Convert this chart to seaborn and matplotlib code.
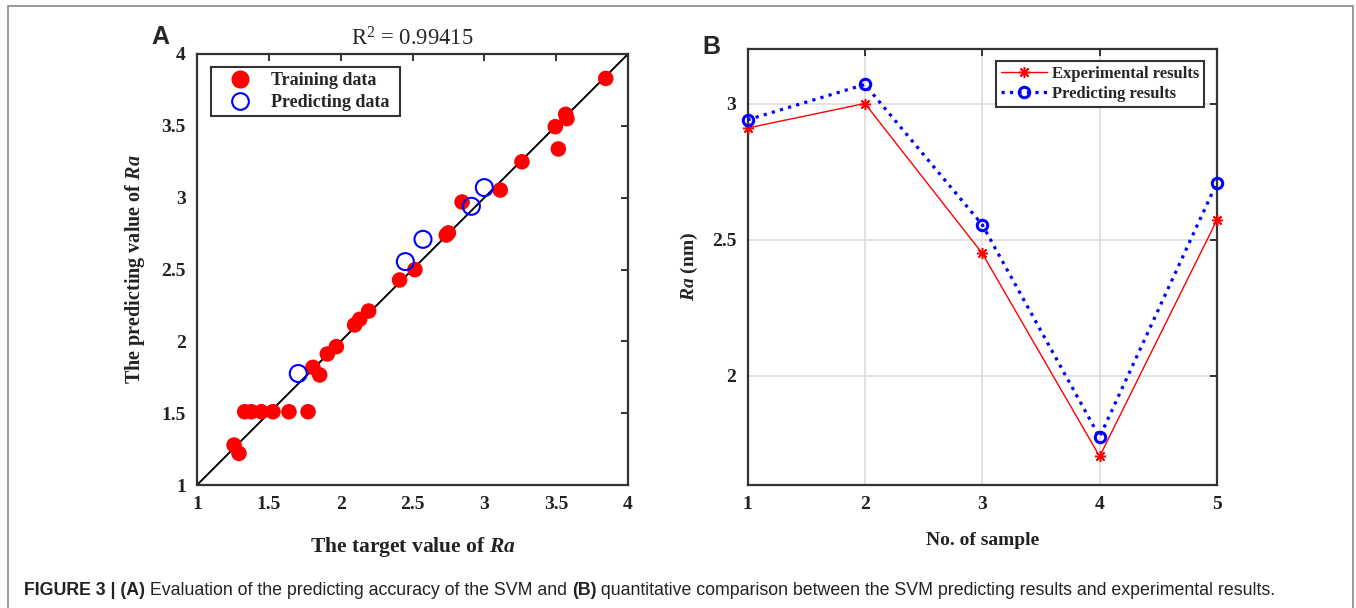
import numpy as np
import pandas as pd
import matplotlib
matplotlib.use("Agg")
import matplotlib.pyplot as plt
import seaborn as sns
from matplotlib.lines import Line2D
from matplotlib.patches import Rectangle

# ---------------- data ----------------
train_target = [3.845, 3.566, 3.575, 3.494, 3.515, 3.262, 3.111, 2.845, 2.735, 2.75,
                2.517, 2.41, 2.195, 2.132, 2.097, 1.97, 1.907, 1.807, 1.854,
                1.332, 1.378, 1.448, 1.529, 1.64, 1.773, 1.258, 1.292]
train_pred = [3.83, 3.58, 3.55, 3.494, 3.339, 3.25, 3.053, 2.97, 2.74, 2.755,
              2.499, 2.427, 2.211, 2.153, 2.114, 1.963, 1.912, 1.819, 1.766,
              1.51, 1.51, 1.51, 1.51, 1.51, 1.51, 1.278, 1.22]
samples = [1, 2, 3, 4, 5]
experimental = [2.91, 3.00, 2.45, 1.705, 2.573]
predicted = [2.94, 3.07, 2.555, 1.776, 2.71]
r2_text = "R$^{2}$ = 0.99415"
ticks_a = [1, 1.5, 2, 2.5, 3, 3.5, 4]
tick_labels_a = ["1", "1.5", "2", "2.5", "3", "3.5", "4"]
yticks_b = [2, 2.5, 3]
ytick_labels_b = ["2", "2.5", "3"]

sns.set_style("white")
plt.rcParams["font.family"] = ["Liberation Serif", "DejaVu Serif"]
plt.rcParams["mathtext.fontset"] = "custom"
plt.rcParams["mathtext.rm"] = "Liberation Serif"
plt.rcParams["mathtext.it"] = "Liberation Serif:italic:bold"
plt.rcParams["mathtext.bf"] = "Liberation Serif:bold"

fig = plt.figure(figsize=(13.56, 6.08), dpi=100)
fig.patch.set_facecolor("white")

axA = fig.add_axes([197/1356, 1-485/608, 431/1356, 431/608])
axB = fig.add_axes([747.5/1356, 1-485/608, 469.5/1356, 436/608])

spine_col = "#333333"
tick_font = dict(family="Liberation Serif", weight="bold", size=14)

# ---------------- panel A ----------------
df_train = pd.DataFrame({"target": train_target, "pred": train_pred})
df_test = pd.DataFrame({"target": experimental, "pred": predicted})
axA.axline((1, 1), slope=1, color="black", lw=1.4, zorder=1)
sns.scatterplot(data=df_train, x="target", y="pred", ax=axA, color="#ff0000",
                s=125, edgecolor="none", linewidth=0, zorder=3)
sns.scatterplot(data=df_test, x="target", y="pred", ax=axA, color="#0000ff",
                s=150, linewidth=1.5, zorder=4)
coll = axA.collections[-1]
coll.set_facecolor("none")
coll.set_edgecolor("#0000ff")
coll.set_linewidth(1.5)

axA.set_xlim(1, 4)
axA.set_ylim(1, 4)
axA.set_xticks(ticks_a)
axA.set_yticks(ticks_a)
axA.set_xticklabels(tick_labels_a, fontdict=tick_font)
axA.set_yticklabels(tick_labels_a, fontdict=tick_font)
axA.set_xlabel("The target value of $Ra$", fontsize=15.5, fontweight="bold", color="#222222")
axA.set_ylabel("The predicting value of $Ra$", fontsize=14.5, fontweight="bold", color="#222222")
axA.xaxis.set_label_coords(0.5, -0.116)
axA.yaxis.set_label_coords(-0.116, 0.5)
axA.set_title(r2_text, fontsize=16.3, pad=6)

handlesA = [Line2D([], [], ls="none", marker="o", ms=12, mfc="#ff0000", mec="#ff0000"),
            Line2D([], [], ls="none", marker="o", ms=12, mfc="none", mec="#0000ff", mew=1.5)]
legA = axA.legend(handlesA, ["Training data", "Predicting data "], loc="upper left",
                  bbox_to_anchor=(0.032, 0.97), borderaxespad=0, fancybox=False,
                  prop=dict(family="Liberation Serif", weight="bold", size=13),
                  handletextpad=0.45, labelspacing=0.25, borderpad=0.3, handlelength=2.6)
legA.get_frame().set_edgecolor(spine_col)
legA.get_frame().set_linewidth(1.5)
legA.get_frame().set_alpha(1)

# ---------------- panel B ----------------
df_b = pd.DataFrame({"sample": samples, "exp": experimental, "pred": predicted})
sns.lineplot(data=df_b, x="sample", y="exp", ax=axB, color="#ff0000", lw=1,
             marker=(8, 2, 0), ms=8, mec="#ff0000", mfc="#ff0000", mew=1.1,
             label="Experimental results", zorder=3, clip_on=False)
sns.lineplot(data=df_b, x="sample", y="pred", ax=axB, color="#0000ff", lw=2.3,
             ls=":", marker="o", ms=7.5, mec="#0000ff", mfc="none", mew=2.2,
             label="Predicting results", zorder=4, clip_on=False)
axB.set_xlim(1, 5)
axB.set_ylim(1.6, 3.2)
axB.set_xticks(samples)
axB.set_xticklabels([str(s) for s in samples], fontdict=tick_font)
axB.set_yticks(yticks_b)
axB.set_yticklabels(ytick_labels_b, fontdict=tick_font)
axB.grid(True, color="#dddddd", lw=1.2)
axB.set_axisbelow(True)
axB.set_xlabel("No. of sample", fontsize=14, fontweight="bold", color="#222222")
axB.set_ylabel("$Ra$ (nm)", fontsize=14, fontweight="bold", color="#222222")
axB.xaxis.set_label_coords(0.5, -0.108)
axB.yaxis.set_label_coords(-0.101, 0.5)
legB = axB.legend(loc="upper right", bbox_to_anchor=(0.972, 0.972), borderaxespad=0,
                  fancybox=False, prop=dict(family="Liberation Serif", weight="bold", size=12),
                  handletextpad=0.25, labelspacing=0.2, borderpad=0.3, handlelength=2.8)
legB.get_frame().set_edgecolor(spine_col)
legB.get_frame().set_linewidth(1.5)
legB.get_frame().set_alpha(1)

for ax in (axA, axB):
    for sp in ax.spines.values():
        sp.set_visible(True)
        sp.set_color(spine_col)
        sp.set_linewidth(1.6)
    ax.tick_params(direction="in", length=5, width=1.4, color=spine_col,
                   top=True, right=True, labelcolor="#222222", pad=8)

# panel letters
fig.text(160/1356, 1-37/608, "A", family="Liberation Sans", weight="bold", size=18,
         ha="center", va="center")
fig.text(711/1356, 1-47/608, "B", family="Liberation Sans", weight="bold", size=18,
         ha="center", va="center")

# figure frame
fig.patches.append(Rectangle((8/1356, -0.05), (1353-8)/1356, 1.05 - 6/608,
                             transform=fig.transFigure, fill=False,
                             edgecolor="#8a8a8a", lw=1.2))

# caption with mixed bold/regular pieces
cap_pieces = [("FIGURE 3 | (A)", "bold"),
              (" Evaluation of the predicting accuracy of the SVM and ", "normal"),
              ("(B)", "bold"),
              (" quantitative comparison between the SVM predicting results and experimental results.", "normal")]
cap_fam = ["Liberation Sans Narrow", "Liberation Sans", "DejaVu Sans"]
t = fig.text(24/1356, 1-599/608, cap_pieces[0][0], family=cap_fam, weight=cap_pieces[0][1],
             size=12.8, ha="left", va="bottom", color="#222222")
for txt, wt in cap_pieces[1:]:
    t = axA.annotate(txt, xy=(1, 0), xycoords=t, ha="left", va="bottom",
                     family=cap_fam, weight=wt, size=12.8, color="#222222",
                     annotation_clip=False)

fig.savefig("out.png", dpi=100)
